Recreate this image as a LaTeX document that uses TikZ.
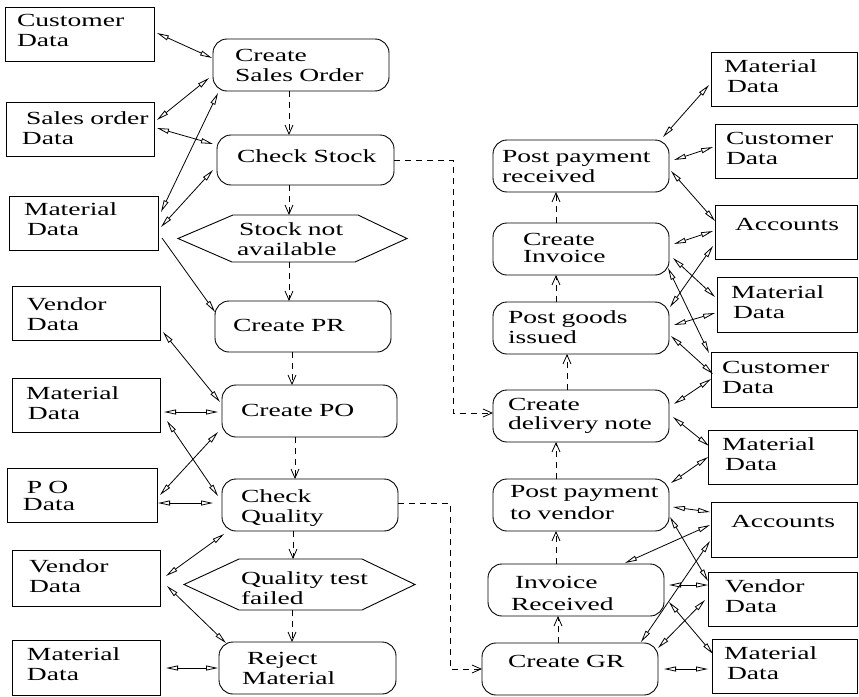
\documentclass[tikz,border=0pt]{standalone}
\usepackage{fontspec}
\setmainfont[FakeStretch=1.49]{Liberation Serif}
\usetikzlibrary{arrows.meta,fit}
\newcommand\lblfont{\fontsize{18.5}{20}\selectfont}
\begin{document}
\begin{tikzpicture}[x=1pt,y=-1pt,
  every node/.style={inner sep=0pt, outer sep=0pt},
  databox/.style={draw, line width=1pt, fit={#1}},
  procbox/.style={draw, line width=0.9pt, rounded corners=14pt, fit={#1}},
  hexspot/.style={fit={#1}},
  hexline/.style={line width=0.9pt},
  lbl/.style={anchor=base west, text width=170pt, align=left, font=\lblfont},
  >={Triangle[open,length=12pt,width=5pt]},
  link/.style={line width=0.8pt, <->},
  oneway/.style={line width=0.8pt, ->},
  flow/.style={line width=0.8pt, dash pattern=on 6pt off 5pt,
               arrows={-Straight Barb[length=9pt,width=8pt]}}]
\useasboundingbox (0,0) rectangle (859,696);

% ---------- master data, left side ----------
\node[databox={(5,7) (154,61)}]     (cd1) {};
\node[databox={(6,102) (154,156)}]  (sod) {};
\node[databox={(9,196) (158,250)}]  (md1) {};
\node[databox={(12,286) (160,340)}] (vd1) {};
\node[databox={(12,378) (160,432)}] (md2) {};
\node[databox={(7,468) (157,522)}]  (pod) {};
\node[databox={(12,550) (160,606)}] (vd2) {};
\node[databox={(12,640) (160,695)}] (md3) {};

\node[lbl] (t-cd1) at (17,27)  {Customer\\Data};
\node[lbl] (t-sod) at (26,124) {Sales order\\\hspace*{-4pt}Data};
\node[lbl] (t-md1) at (24,215) {Material\\\hspace*{3pt}Data};
\node[lbl] (t-vd1) at (27,310) {Vendor\\Data};
\node[lbl] (t-md2) at (26,399) {Material\\\hspace*{2pt}Data};
\node[lbl] (t-pod) at (27,493) {P O\\[-3pt]\hspace*{-4pt}Data};
\node[lbl] (t-vd2) at (29,572) {Vendor\\Data};
\node[lbl] (t-md3) at (27,660) {Material\\Data};

% ---------- sales / procurement steps ----------
\node[procbox={(213,39) (389,91)}]   (cso) {};
\node[procbox={(217,135) (394,185)}] (cs)  {};
\node[hexspot={(178,215) (407,262)}] (sna) {};
\draw[hexline] (sna.west) -- ([shift={(55,0)}]sna.north west) -- ([shift={(-49,0)}]sna.north east)
  -- (sna.east) -- ([shift={(-52,0)}]sna.south east) -- ([shift={(54,0)}]sna.south west) -- cycle;
\node[procbox={(215,301) (391,352)}] (cpr) {};
\node[procbox={(222,385) (397,437)}] (cpo) {};
\node[procbox={(222,479) (398,531)}] (cq)  {};
\node[hexspot={(184,559) (415,610)}] (qtf) {};
\draw[hexline] (qtf.west) -- ([shift={(55,0)}]qtf.north west) -- ([shift={(-53,0)}]qtf.north east)
  -- (qtf.east) -- ([shift={(-53,0)}]qtf.south east) -- ([shift={(55,0)}]qtf.south west) -- cycle;
\node[procbox={(219,642) (396,694)}] (rm)  {};

\node[lbl] (t-cso) at (235,61)  {Create\\Sales Order};
\node[lbl] (t-cs)  at (237,162) {Check Stock};
\node[lbl] (t-sna) at (239,235) {Stock not\\\hspace*{-2pt}available};
\node[lbl] (t-cpr) at (233,331) {Create PR};
\node[lbl] (t-cpo) at (241,416) {Create PO};
\node[lbl] (t-cq)  at (241,502) {Check\\Quality};
\node[lbl] (t-qtf) at (241,584) {Quality test\\failed};
\node[lbl] (t-rm)  at (247,664) {Reject\\\hspace*{-5pt}Material};

% ---------- delivery / payment steps ----------
\node[procbox={(493,140) (669,192)}] (ppr) {};
\node[procbox={(493,223) (669,275)}] (ci)  {};
\node[procbox={(493,302) (669,354)}] (pgi) {};
\node[procbox={(493,390) (669,442)}] (cdn) {};
\node[procbox={(493,479) (669,531)}] (ppv) {};
\node[procbox={(488,564) (664,616)}] (ir)  {};
\node[procbox={(482,643) (658,695)}] (cgr) {};

\node[lbl] (t-ppr) at (502,162) {Post payment\\received};
\node[lbl] (t-ci)  at (523,245) {Create\\[-3pt]Invoice};
\node[lbl] (t-pgi) at (508,323) {Post goods\\issued};
\node[lbl] (t-cdn) at (508,410) {Create\\[-1pt]delivery note};
\node[lbl] (t-ppv) at (510,497) {Post payment\\[2pt]to vendor};
\node[lbl] (t-ir)  at (515,588) {Invoice\\[2pt]\hspace*{-4pt}Received};
\node[lbl] (t-cgr) at (508,667) {Create GR};

% ---------- master data, right side ----------
\node[databox={(711,52) (857.5,106)}]  (rmd1) {};
\node[databox={(715,124) (857.5,178)}] (rcd1) {};
\node[databox={(715,205) (857.5,259)}] (ra1)  {};
\node[databox={(717,277) (857.5,332)}] (rmd2) {};
\node[databox={(711,352) (857.5,407)}] (rcd2) {};
\node[databox={(708,430) (857.5,484)}] (rmd3) {};
\node[databox={(711,502) (857.5,557)}] (ra2)  {};
\node[databox={(708,572) (857.5,626)}] (rvd)  {};
\node[databox={(712,639) (857.5,693)}] (rmd4) {};

\node[lbl] (t-rmd1) at (724,72)  {Material\\\hspace*{3pt}Data};
\node[lbl] (t-rcd1) at (726,144) {Customer\\Data};
\node[lbl] (t-ra1)  at (735,230) {Accounts};
\node[lbl] (t-rmd2) at (731,298) {Material\\\hspace*{2pt}Data};
\node[lbl] (t-rcd2) at (722,373) {Customer\\Data};
\node[lbl] (t-rmd3) at (722,450) {Material\\\hspace*{3pt}Data};
\node[lbl] (t-ra2)  at (731,527) {Accounts};
\node[lbl] (t-rvd)  at (725,592) {Vendor\\Data};
\node[lbl] (t-rmd4) at (724,659) {Material\\\hspace*{3pt}Data};

% ---------- data access, left ----------
\draw[link] ([shift={(3,26)}]cd1.north east) -- ([shift={(-1,19)}]cso.north west);
\draw[link] ([shift={(3,18)}]sod.north east) -- ([shift={(-4,39)}]cso.north west);
\draw[link] ([shift={(3,26)}]sod.north east) -- ([shift={(-4,9)}]cs.north west);
\draw[link] ([shift={(3,16)}]md1.north east) -- ([shift={(5,2)}]cso.south west);
\draw[link] ([shift={(3,31)}]md1.north east) -- ([shift={(-4,-15)}]cs.south west);
\draw[oneway] ([shift={(4,42)}]md1.north east) -- ([shift={(0,11)}]cpr.north west);
\draw[link] ([shift={(3,46)}]vd1.north east) -- ([shift={(-2,17)}]cpo.north west);
\draw[link] ([shift={(4,34)}]md2.north east) -- ([shift={(-4,27)}]cpo.north west);
\draw[link] ([shift={(7,43)}]md2.north east) -- ([shift={(-4,17)}]cq.north west);
\draw[link] ([shift={(3,27)}]pod.north east) -- ([shift={(-4,-5)}]cpo.south west);
\draw[link] ([shift={(1,35)}]pod.north east) -- ([shift={(-9,24)}]cq.north west);
\draw[link] ([shift={(6,26)}]vd2.north east) -- ([shift={(2,3)}]cq.south west);
\draw[link] ([shift={(7,36)}]vd2.north east) -- ([shift={(7,1)}]rm.north west);
\draw[link] ([shift={(6,28)}]md3.north east) -- ([shift={(-1,26)}]rm.north west);

% ---------- data access, right ----------
\draw[link] ([shift={(-6,-3)}]ppr.north east) -- ([shift={(-2,33)}]rmd1.north west);
\draw[link] ([shift={(5,20)}]ppr.north east) -- ([shift={(-2,23)}]rcd1.north west);
\draw[link] ([shift={(2,31)}]ppr.north east) -- ([shift={(0,16)}]ra1.north west);
\draw[link] ([shift={(5,21)}]ci.north east) -- ([shift={(-2,26)}]ra1.north west);
\draw[link] ([shift={(4,35)}]ci.north east) -- ([shift={(-2,20)}]rmd2.north west);
\draw[link] ([shift={(-1,45)}]ci.north east) -- ([shift={(-2,1)}]rcd2.north west);
\draw[link] ([shift={(1,5)}]pgi.north east) -- ([shift={(-2,41)}]ra1.north west);
\draw[link] ([shift={(5,23)}]pgi.north east) -- ([shift={(-2,36)}]rmd2.north west);
\draw[link] ([shift={(2,34)}]pgi.north east) -- ([shift={(2,22)}]rcd2.north west);
\draw[link] ([shift={(5,14)}]cdn.north east) -- ([shift={(0,27)}]rcd2.north west);
\draw[link] ([shift={(4,27)}]cdn.north east) -- ([shift={(1,16)}]rmd3.north west);
\draw[link] ([shift={(2,4)}]ppv.north east) -- ([shift={(0,27)}]rmd3.north west);
\draw[link] ([shift={(4,28)}]ppv.north east) -- ([shift={(-1,10)}]ra2.north west);
\draw[link] ([shift={(1,38)}]ppv.north east) -- ([shift={(0,9)}]rvd.north west);
\draw[link] ([shift={(49,-1)}]ir.north) -- ([shift={(-1,23)}]ra2.north west);
\draw[link] ([shift={(5,21)}]ir.north east) -- ([shift={(0,13)}]rvd.north west);
\draw[link] ([shift={(5,38)}]ir.north east) -- ([shift={(1,15)}]rmd4.north west);
\draw[link] ([shift={(-17,-1)}]cgr.north east) -- ([shift={(-1,39)}]ra2.north west);
\draw[link] ([shift={(0,5)}]cgr.north east) -- ([shift={(-3,28)}]rvd.north west);
\draw[link] ([shift={(6,26)}]cgr.north east) -- ([shift={(-4,30)}]rmd4.north west);

% ---------- control flow ----------
\draw[flow] ([shift={(-12,0)}]cso.south) -- ([shift={(-16.5,0)}]cs.north);
\draw[flow] ([shift={(-16.5,0)}]cs.south) -- ([shift={(-3.5,0)}]sna.north);
\draw[flow] ([shift={(-3.5,0)}]sna.south) -- ([shift={(-14,0)}]cpr.north);
\draw[flow] ([shift={(-11,0)}]cpr.south) -- ([shift={(-17.5,0)}]cpo.north);
\draw[flow] ([shift={(-14.5,0)}]cpo.south) -- ([shift={(-15,0)}]cq.north);
\draw[flow] ([shift={(-17,0)}]cq.south) -- ([shift={(-6.5,0)}]qtf.north);
\draw[flow] ([shift={(-7.5,0)}]qtf.south) -- ([shift={(-15.5,0)}]rm.north);

\draw[flow] ([shift={(-12,0)}]cgr.north) -- ([shift={(-18,0)}]ir.south);
\draw[flow] ([shift={(-20,0)}]ir.north) -- ([shift={(-25,0)}]ppv.south);
\draw[flow] ([shift={(-25,0)}]ppv.north) -- ([shift={(-25,0)}]cdn.south);
\draw[flow] ([shift={(-14,0)}]cdn.north) -- ([shift={(-14,0)}]pgi.south);
\draw[flow] ([shift={(-25,0)}]pgi.north) -- ([shift={(-25,0)}]ci.south);
\draw[flow] ([shift={(-25,0)}]ci.north) -- ([shift={(-25,0)}]ppr.south);

\draw[flow] (cs.east) -- ++(59,0) |- ([shift={(0,-3)}]cdn.west);
\draw[flow] ([shift={(0,-2)}]cq.east) -- ++(52,0) |- (cgr.west);
\end{tikzpicture}
\end{document}
